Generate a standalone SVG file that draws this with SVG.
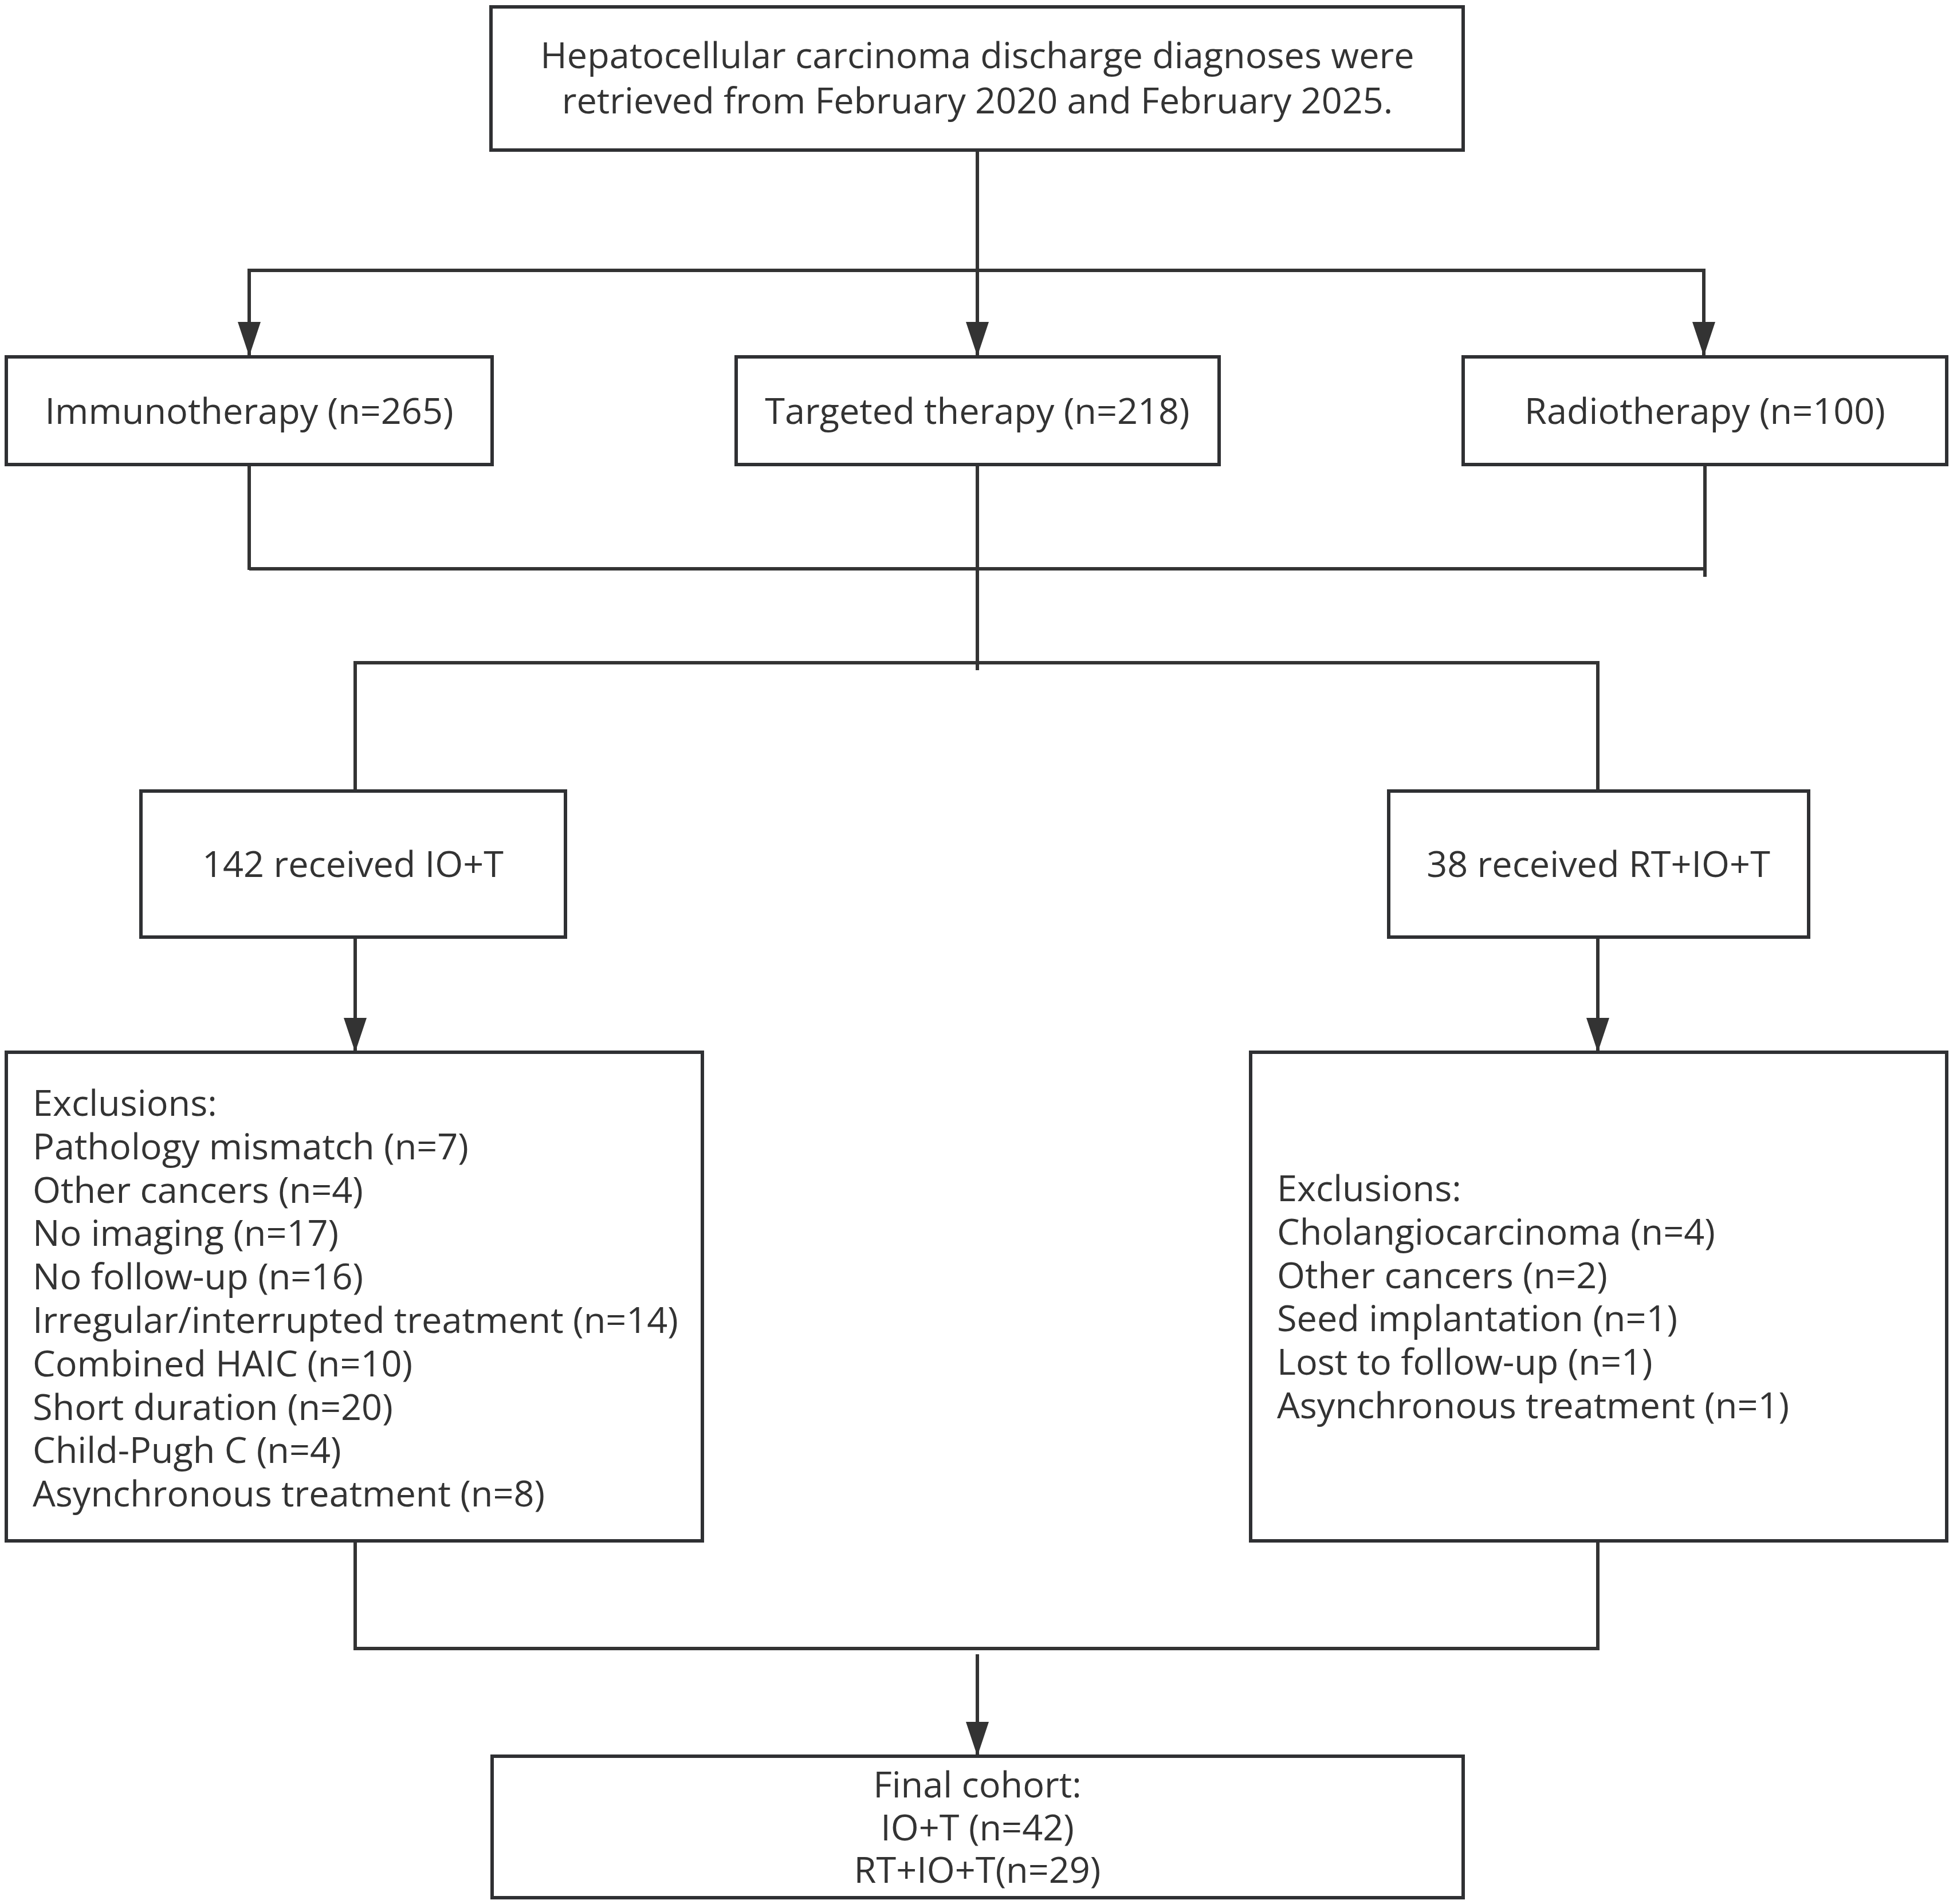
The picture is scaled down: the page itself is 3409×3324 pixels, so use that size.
<svg xmlns="http://www.w3.org/2000/svg" width="3409" height="3324" viewBox="0 0 3409 3324">
<style>
.box{fill:#ffffff;stroke:#2f3033;stroke-width:6}
.t{font-family:"Open Sans","Noto Sans","Liberation Sans",sans-serif;font-size:63px;fill:#333333}
.c{text-anchor:middle}
.ln{fill:none;stroke:#333333;stroke-width:6}
</style>
<defs>
<marker id="ah" markerUnits="userSpaceOnUse" markerWidth="60" markerHeight="40" refX="60" refY="20" orient="auto" viewBox="0 0 60 40">
<path d="M0,0 L60,20 L0,40 Z" fill="#333333"/>
</marker>
</defs>
<rect width="3409" height="3324" fill="#ffffff"/>
<g id="connectors">
<line class="ln" x1="1706" y1="263" x2="1706" y2="622" marker-end="url(#ah)"/>
<line class="ln" x1="435" y1="472" x2="2977" y2="472"/>
<line class="ln" x1="435" y1="469" x2="435" y2="622" marker-end="url(#ah)"/>
<line class="ln" x1="2974" y1="469" x2="2974" y2="622" marker-end="url(#ah)"/>
<line class="ln" x1="435" y1="811" x2="435" y2="995"/>
<line class="ln" x1="2976" y1="811" x2="2976" y2="1007"/>
<line class="ln" x1="435" y1="993" x2="2976" y2="993"/>
<line class="ln" x1="1706" y1="811" x2="1706" y2="1170"/>
<line class="ln" x1="617" y1="1157" x2="2792" y2="1157"/>
<line class="ln" x1="620" y1="1157" x2="620" y2="1381"/>
<line class="ln" x1="2789" y1="1157" x2="2789" y2="1381"/>
<line class="ln" x1="620" y1="1636" x2="620" y2="1837" marker-end="url(#ah)"/>
<line class="ln" x1="2789" y1="1636" x2="2789" y2="1837" marker-end="url(#ah)"/>
<line class="ln" x1="620" y1="2690" x2="620" y2="2881"/>
<line class="ln" x1="2789" y1="2690" x2="2789" y2="2881"/>
<line class="ln" x1="617" y1="2878" x2="2792" y2="2878"/>
<line class="ln" x1="1706" y1="2888" x2="1706" y2="3066" marker-end="url(#ah)"/>
</g>
<g id="node-source">
<rect class="box" x="857" y="12" width="1697" height="250"/>
<text class="t c" x="1706" y="119">Hepatocellular carcinoma discharge diagnoses were</text>
<text class="t c" x="1706" y="198">retrieved from February 2020 and February 2025.</text>
</g>
<g id="node-immuno">
<rect class="box" x="11" y="623" width="848" height="188"/>
<text class="t c" x="435" y="740">Immunotherapy (n=265)</text>
</g>
<g id="node-targeted">
<rect class="box" x="1285" y="623" width="843" height="188"/>
<text class="t c" x="1706" y="740">Targeted therapy (n=218)</text>
</g>
<g id="node-radio">
<rect class="box" x="2554" y="623" width="844" height="188"/>
<text class="t c" x="2976" y="740">Radiotherapy (n=100)</text>
</g>
<g id="node-iot">
<rect class="box" x="246" y="1381" width="741" height="255"/>
<text class="t c" x="616" y="1531">142 received IO+T</text>
</g>
<g id="node-rtiot">
<rect class="box" x="2424" y="1381" width="733" height="255"/>
<text class="t c" x="2790" y="1531">38 received RT+IO+T</text>
</g>
<g id="node-excl-left">
<rect class="box" x="11" y="1837" width="1215" height="853"/>
<text class="t" x="57" y="1948">Exclusions:</text>
<text class="t" x="57" y="2024">Pathology mismatch (n=7)</text>
<text class="t" x="57" y="2100">Other cancers (n=4)</text>
<text class="t" x="57" y="2175">No imaging (n=17)</text>
<text class="t" x="57" y="2251">No follow-up (n=16)</text>
<text class="t" x="57" y="2327">Irregular/interrupted treatment (n=14)</text>
<text class="t" x="57" y="2403">Combined HAIC (n=10)</text>
<text class="t" x="57" y="2479">Short duration (n=20)</text>
<text class="t" x="57" y="2554">Child-Pugh C (n=4)</text>
<text class="t" x="57" y="2630">Asynchronous treatment (n=8)</text>
</g>
<g id="node-excl-right">
<rect class="box" x="2183" y="1837" width="1215" height="853"/>
<text class="t" x="2229" y="2097">Exclusions:</text>
<text class="t" x="2229" y="2173">Cholangiocarcinoma (n=4)</text>
<text class="t" x="2229" y="2249">Other cancers (n=2)</text>
<text class="t" x="2229" y="2324">Seed implantation (n=1)</text>
<text class="t" x="2229" y="2400">Lost to follow-up (n=1)</text>
<text class="t" x="2229" y="2476">Asynchronous treatment (n=1)</text>
</g>
<g id="node-final">
<rect class="box" x="859" y="3066" width="1695" height="247"/>
<text class="t c" x="1706" y="3138">Final cohort:</text>
<text class="t c" x="1706" y="3213">IO+T (n=42)</text>
<text class="t c" x="1706" y="3287">RT+IO+T(n=29)</text>
</g>
</svg>
